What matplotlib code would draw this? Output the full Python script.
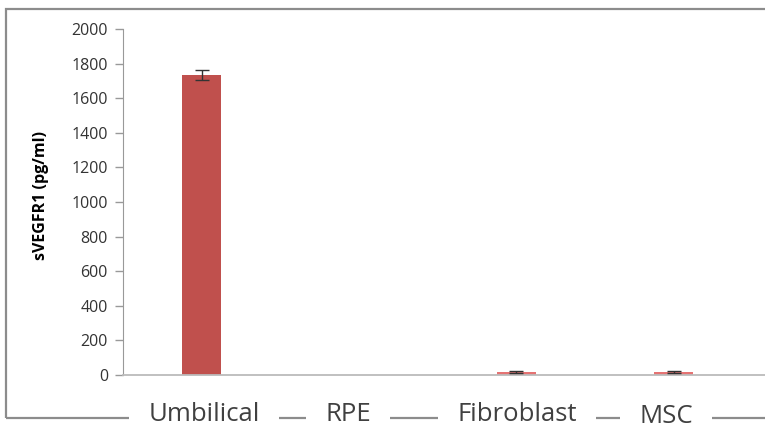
import matplotlib
matplotlib.use("Agg")
import matplotlib.pyplot as plt
from matplotlib.patches import Rectangle

categories = ["Umbilical", "RPE", "Fibroblast", "MSC"]
values = [1735, 0, 15, 15]
errors = [30, 0, 5, 5]
yticks = [0, 200, 400, 600, 800, 1000, 1200, 1400, 1600, 1800, 2000]

plt.rcParams['font.family'] = ['Open Sans', 'DejaVu Sans']

fig = plt.figure(figsize=(7.65, 4.29), dpi=100)
# outer chart frame
fig.patches.append(Rectangle((0.008, 0.026), 1.1, 0.953, transform=fig.transFigure,
                             fill=False, edgecolor='#8c8c8c', linewidth=1.6, zorder=0))
ax = fig.add_axes([0.161, 0.126, 0.839, 0.806])
x = list(range(len(categories)))
colors = ['#c0504d', '#c0504d', '#e57373', '#e57373']
ax.bar(x, values, width=0.25, color=colors, edgecolor='none', zorder=2)
ex = [xi for xi, e in zip(x, errors) if e > 0]
ev = [v for v, e in zip(values, errors) if e > 0]
ee = [e for e in errors if e > 0]
ax.errorbar(ex, ev, yerr=ee, fmt='none', ecolor='#333333', elinewidth=1,
            capsize=5, capthick=1, zorder=3)
ax.set_xlim(-0.5, 3.58)
ax.set_ylim(0, 2000)
ax.set_yticks(yticks)
ax.set_yticklabels([str(v) for v in yticks], fontsize=11.5, color='#333333')
ax.tick_params(axis='y', direction='out', length=6, color='#999999', width=1, pad=5)
ax.set_xticks([])
for s in ['top', 'right']:
    ax.spines[s].set_visible(False)
ax.spines['left'].set_color('#999999')
ax.spines['bottom'].set_color('#bbbbbb')
ax.spines['bottom'].set_linewidth(1.3)
ax.set_ylabel('sVEGFR1 (pg/ml)', fontsize=11.5, fontweight='bold')
ax.yaxis.set_label_coords(-0.116, 0.52)

label_x = [0.267, 0.455, 0.676, 0.871]
label_y = [0.034, 0.034, 0.034, 0.028]
for c, lx, ly in zip(categories, label_x, label_y):
    fig.text(lx, ly, c, ha='center', va='center', fontsize=18.5, color='#404040',
             bbox=dict(boxstyle='square,pad=0.75', facecolor='white', edgecolor='none'))

fig.savefig('out.png', dpi=100, facecolor='white')
